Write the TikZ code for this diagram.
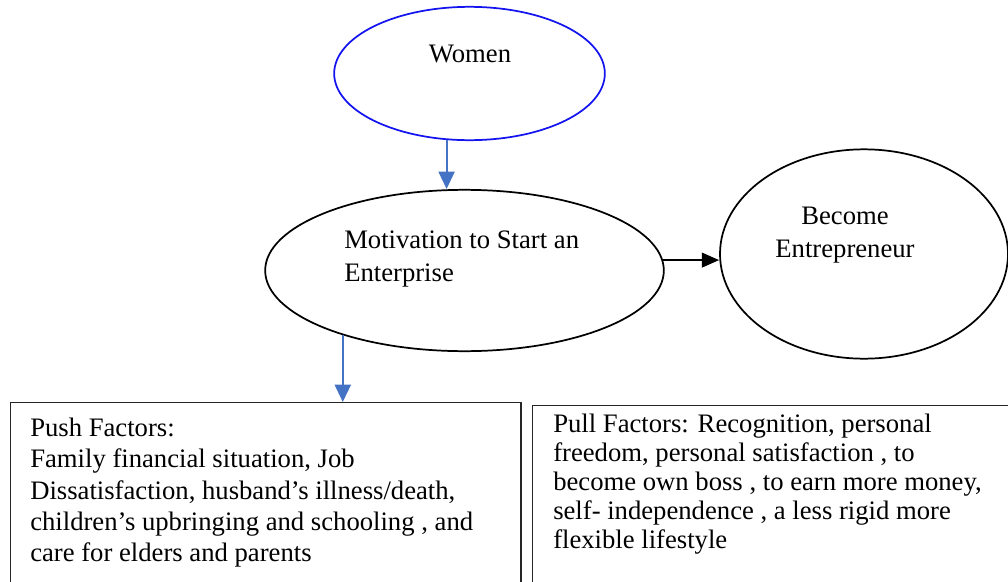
\documentclass[tikz,border=0pt]{standalone}
\usepackage{fontspec}
\setmainfont{Liberation Serif}
\usetikzlibrary{shapes.geometric, arrows.meta}

\definecolor{arrowblue}{HTML}{4472C4}
\definecolor{ringblue}{HTML}{1414F0}

\tikzset{
    bubble/.style={ellipse, draw, line width=1.3pt, inner sep=0pt},
    factorbox/.style={rectangle, draw=black!85, line width=1.1pt, inner sep=0pt},
    caption/.style={inner sep=0pt, font={\fontsize{20}{23.4}\selectfont}},
    bluearrow/.style={arrowblue, line width=1.6pt, -{Triangle[length=13pt, width=12pt]}},
    blackarrow/.style={black, line width=1.6pt, -{Triangle[length=13pt, width=11pt]}}
}

\begin{document}
\begin{tikzpicture}[x=0.75pt, y=-0.75pt]
        \useasboundingbox (0,0) rectangle (1008,582);

        % Nodes
        \node[bubble, draw=ringblue, minimum width=203pt, minimum height=100pt] (women) at (469.5, 73.5) {};
        \node[bubble, minimum width=299pt, minimum height=121pt] (motivation) at (464.5, 270.5) {};
        \node[bubble, minimum width=216pt, minimum height=157pt] (become) at (864, 254) {};
        \node[factorbox, minimum width=383pt, minimum height=150pt, anchor=north west] (push) at (9.5, 402) {};
        \node[factorbox, minimum width=362pt, minimum height=150pt, anchor=north west] (pull) at (532, 405) {};

        % Texts
        \node[caption, anchor=north] (womentext) at (470, 45) {Women};
        \node[caption, anchor=north west, align=left] (motivationtext) at (344, 231)
            {Motivation to Start an\\[1pt]Enterprise};
        \node[caption, anchor=north, align=center, font={\fontsize{20}{24.75}\selectfont}] (becometext) at (845, 207)
            {Become\\Entrepreneur};
        \node[caption, anchor=north west, align=left] (pushtext) at (30, 418)
            {Push Factors:\\
             Family financial situation, Job\\
             Dissatisfaction, husband’s illness/death,\\
             children’s upbringing and schooling , and\\
             care for elders and parents};
        \node[caption, anchor=north west, align=left, font={\fontsize{20}{21.75}\selectfont}] (pulltext) at (553, 414)
            {Pull Factors: Recognition, personal\\
             freedom, personal satisfaction , to\\
             become own boss , to earn more money,\\
             self- independence , a less rigid more\\
             flexible lifestyle};

        % Edges
        \draw[bluearrow] (women.251.7) -- (women.251.7 |- motivation.north);
        \draw[blackarrow] (motivation.3.6) -- (motivation.3.6 -| become.west);
        \draw[bluearrow] (motivation.208.6) -- (motivation.208.6 |- push.north);
    \end{tikzpicture}
\end{document}
